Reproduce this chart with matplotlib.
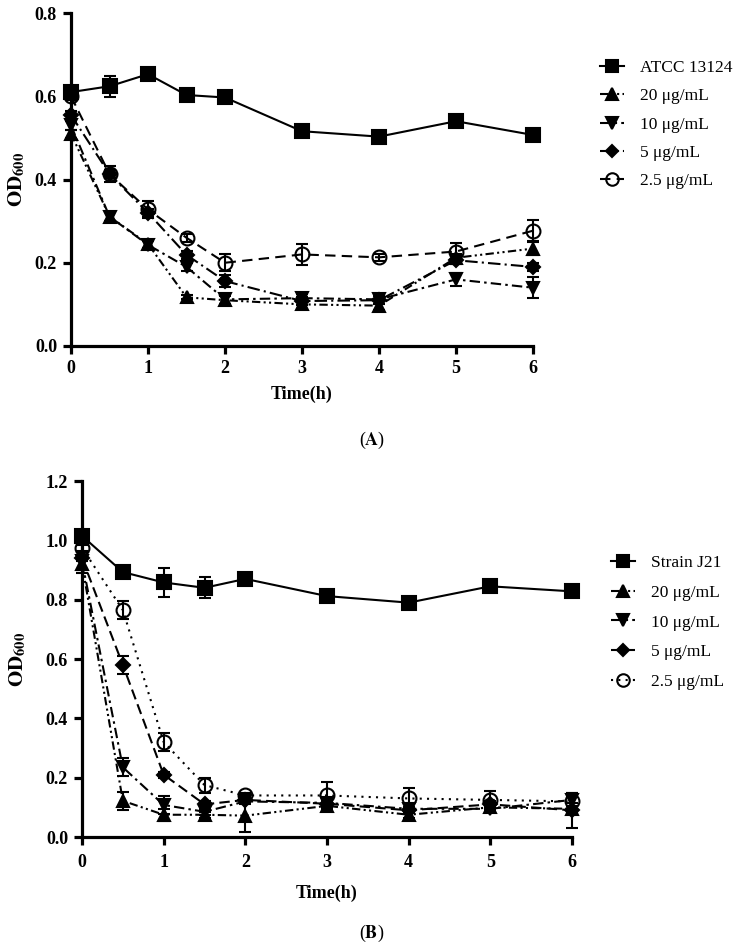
import matplotlib
matplotlib.use("Agg")
import matplotlib.pyplot as plt
from matplotlib.lines import Line2D

plt.rcParams['font.family'] = ['Liberation Serif', 'DejaVu Serif']
plt.rcParams['mathtext.fontset'] = 'stix'

# ---------------- data ----------------
time = [0, 0.5, 1, 1.5, 2, 3, 4, 5, 6]

labels_a = ['ATCC 13124', '20 μg/mL', '10 μg/mL', '5 μg/mL', '2.5 μg/mL']
a_ctrl = [0.61, 0.624, 0.653, 0.603, 0.597, 0.516, 0.503, 0.540, 0.507]
a_20 = [0.51, 0.311, 0.245, 0.117, 0.110, 0.100, 0.097, 0.212, 0.234]
a_10 = [0.53, 0.311, 0.243, 0.190, 0.112, 0.115, 0.112, 0.160, 0.140]
a_5 = [0.555, 0.413, 0.320, 0.219, 0.156, 0.108, 0.110, 0.206, 0.190]
a_25 = [0.60, 0.413, 0.328, 0.260, 0.200, 0.220, 0.213, 0.227, 0.277]
a_ctrl_err = [0.010, 0.025, 0.008, 0.006, 0.005, 0.006, 0.006, 0.006, 0.008]
a_20_err = [0.010, 0.010, 0.010, 0.005, 0.010, 0.010, 0.010, 0.010, 0.015]
a_10_err = [0.010, 0.010, 0.010, 0.010, 0.010, 0.010, 0.010, 0.015, 0.025]
a_5_err = [0.010, 0.010, 0.010, 0.010, 0.015, 0.010, 0.010, 0.010, 0.010]
a_25_err = [0.010, 0.020, 0.020, 0.010, 0.020, 0.025, 0.008, 0.020, 0.025]

labels_b = ['Strain J21', '20 μg/mL', '10 μg/mL', '5 μg/mL', '2.5 μg/mL']
b_ctrl = [1.015, 0.893, 0.858, 0.840, 0.870, 0.812, 0.790, 0.845, 0.828]
b_20 = [0.92, 0.122, 0.075, 0.075, 0.072, 0.105, 0.075, 0.100, 0.095]
b_10 = [0.93, 0.235, 0.108, 0.085, 0.120, 0.115, 0.095, 0.095, 0.125]
b_5 = [0.94, 0.580, 0.210, 0.110, 0.125, 0.112, 0.090, 0.110, 0.090]
b_25 = [0.975, 0.765, 0.320, 0.175, 0.140, 0.140, 0.130, 0.125, 0.120]
b_ctrl_err = [0.010, 0.010, 0.050, 0.035, 0.010, 0.010, 0.010, 0.010, 0.010]
b_20_err = [0.030, 0.030, 0.020, 0.010, 0.055, 0.010, 0.010, 0.010, 0.010]
b_10_err = [0.030, 0.030, 0.030, 0.010, 0.010, 0.010, 0.015, 0.010, 0.010]
b_5_err = [0.010, 0.030, 0.010, 0.010, 0.010, 0.010, 0.010, 0.010, 0.060]
b_25_err = [0.010, 0.030, 0.030, 0.025, 0.010, 0.045, 0.035, 0.030, 0.030]

xticks = [0, 1, 2, 3, 4, 5, 6]
yticks_a = [0.0, 0.2, 0.4, 0.6, 0.8]
yticks_b = [0.0, 0.2, 0.4, 0.6, 0.8, 1.0, 1.2]

# ---------------- figure ----------------
W, H = 744, 949
fig = plt.figure(figsize=(W / 100, H / 100), dpi=100)


def px_axes(x0, x1, ytop, ybot):
    return fig.add_axes([x0 / W, 1 - ybot / H, (x1 - x0) / W, (ybot - ytop) / H])


axA = px_axes(71, 533, 13, 346)
axB = px_axes(82, 572, 481, 837)

styles_a = [
    dict(marker='s', ms=9.5, ls='-', mfc='black'),
    dict(marker='^', ms=9, ls=(0, (4, 1.6, 1, 1.6, 1, 1.6)), mfc='black'),
    dict(marker='v', ms=9, ls=(0, (5, 2, 1.2, 2)), mfc='black'),
    dict(marker='D', ms=7, ls=(0, (6, 2, 1, 2)), mfc='black'),
    dict(marker='o', ms=10, ls=(0, (5, 3)), mfc='none'),
]
styles_b = [
    dict(marker='s', ms=9.5, ls='-', mfc='black'),
    dict(marker='^', ms=9, ls=(0, (4, 1.6, 1, 1.6, 1, 1.6)), mfc='black'),
    dict(marker='v', ms=9, ls=(0, (5, 2, 1.2, 2)), mfc='black'),
    dict(marker='D', ms=7, ls=(0, (5, 2.5)), mfc='black'),
    dict(marker='o', ms=10, ls=(0, (1, 2.5)), mfc='none'),
]


def draw(ax, series, errs, labels, styles, yticks, ymax, xlabelpad, ylab_x):
    handles = []
    for y, e, lab, st in zip(series, errs, labels, styles):
        eb = ax.errorbar(time, y, yerr=e, color='black', lw=1.5, elinewidth=1.5,
                         capsize=4.5, capthick=1.5, marker=st['marker'], ms=st['ms'],
                         mfc=st['mfc'], mec='black', mew=1.5, ls=st['ls'],
                         clip_on=False, zorder=3)
        for art in eb.lines[1] + tuple(eb.lines[2]):
            art.set_clip_on(False)
        handles.append(Line2D([], [], color='black', lw=1.5, ls=st['ls'],
                              marker=st['marker'], ms=st['ms'] * 0.9,
                              mfc=st['mfc'], mec='black', mew=1.5))
    ax.set_xlim(0, 6)
    ax.set_ylim(0, ymax)
    ax.set_xticks(xticks)
    ax.set_yticks(yticks)
    ax.set_yticklabels([f'{v:.1f}' for v in yticks])
    for s in ['top', 'right']:
        ax.spines[s].set_visible(False)
    for s in ['left', 'bottom']:
        ax.spines[s].set_linewidth(2.3)
    ax.tick_params(direction='out', length=6, width=2.3, labelsize=13, pad=4)
    for t in ax.get_xticklabels() + ax.get_yticklabels():
        t.set_fontweight('bold')
    ax.set_xlabel('Time(h)', fontsize=13, fontweight='bold', labelpad=xlabelpad)
    ax.set_ylabel(r'$\mathbf{OD}_{\mathbf{600}}$', fontsize=15)
    ax.yaxis.set_label_coords(ylab_x, 0.5)
    return handles


hA = draw(axA, [a_ctrl, a_20, a_10, a_5, a_25],
          [a_ctrl_err, a_20_err, a_10_err, a_5_err, a_25_err],
          labels_a, styles_a, yticks_a, 0.8, 6, (27 - 71) / 462)
hB = draw(axB, [b_ctrl, b_20, b_10, b_5, b_25],
          [b_ctrl_err, b_20_err, b_10_err, b_5_err, b_25_err],
          labels_b, styles_b, yticks_b, 1.2, 10, (28 - 82) / 490)
axB.tick_params(axis='x', pad=6)

legkw = dict(frameon=False, fontsize=12.5, handlelength=1.4, handletextpad=0.9,
             borderpad=0, borderaxespad=0, loc='upper left')
fig.legend(handles=hA, labels=labels_a, bbox_to_anchor=(600 / W, 1 - 60 / H),
           labelspacing=0.7, **legkw)
fig.legend(handles=hB, labels=labels_b, bbox_to_anchor=(611 / W, 1 - 555 / H),
           labelspacing=0.78, **legkw)

fig.text(372 / W, 1 - 440 / H, r'($\mathbf{A}$)', ha='center', va='center', fontsize=13)
fig.text(372 / W, 1 - 933 / H, r'($\mathbf{B}$)', ha='center', va='center', fontsize=13)

fig.savefig('out.png', dpi=100)
